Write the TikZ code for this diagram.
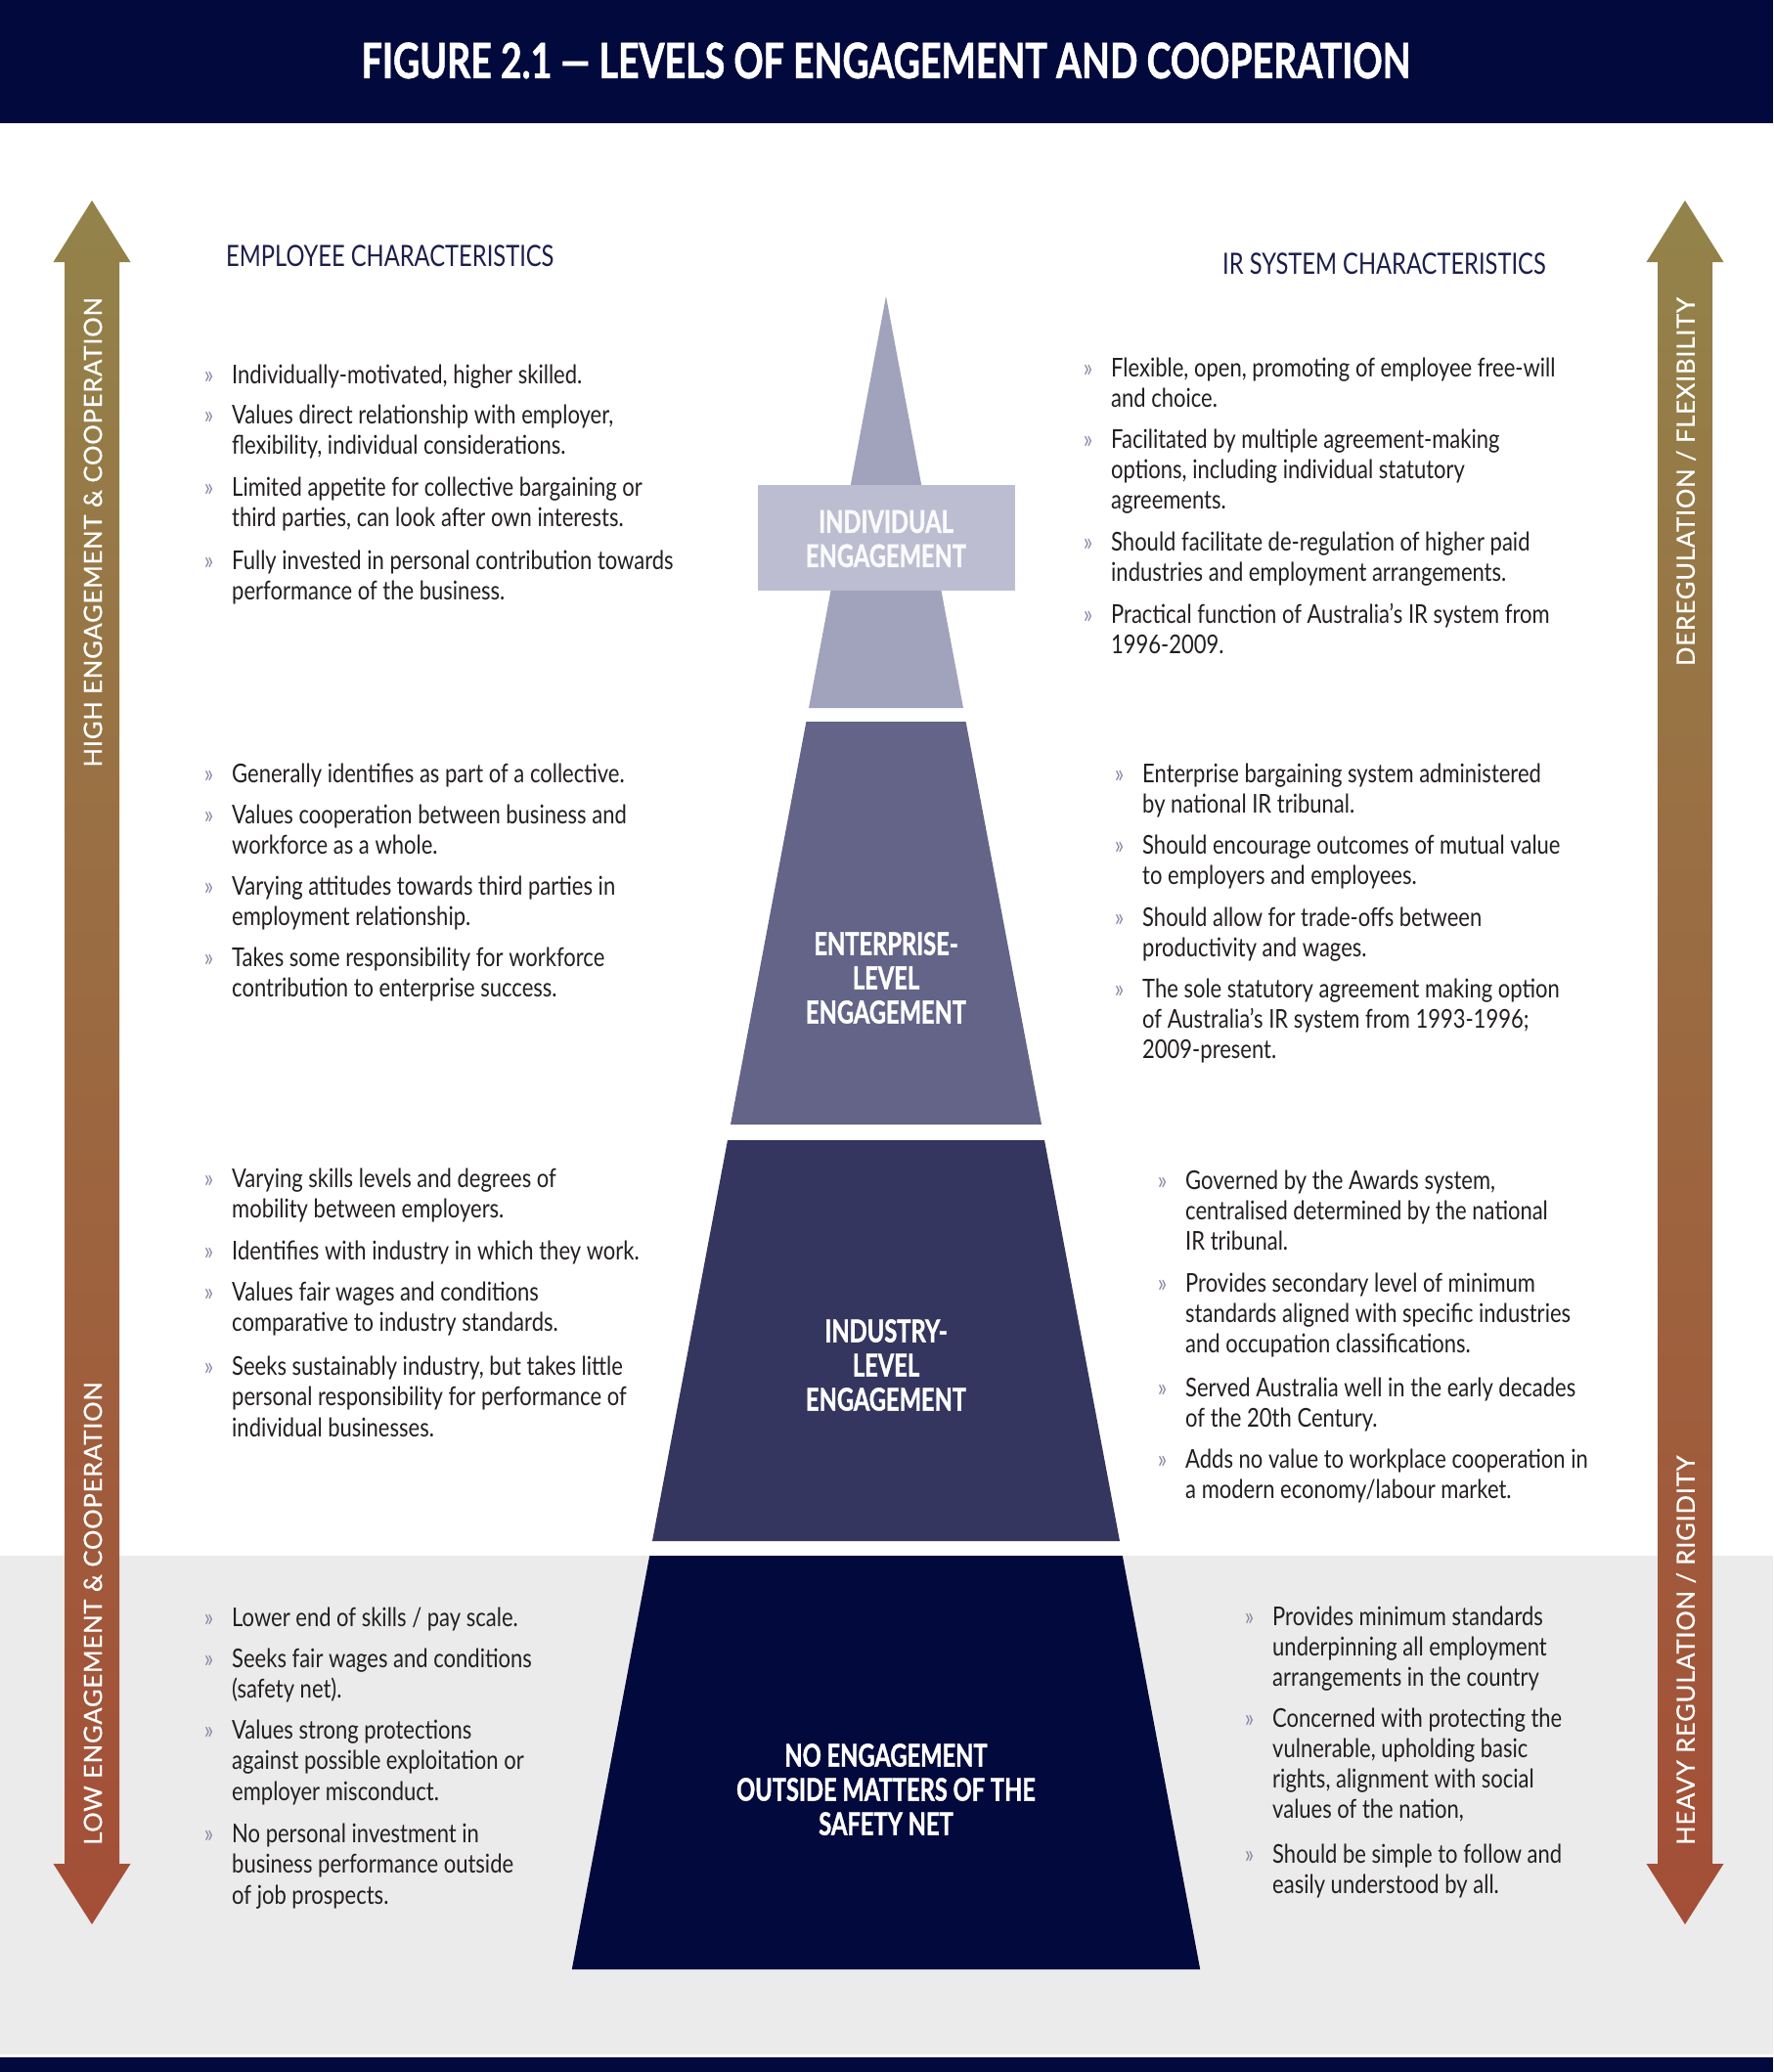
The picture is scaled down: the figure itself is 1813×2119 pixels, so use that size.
\documentclass[tikz,border=0pt]{standalone}
\usepackage{fontspec}
\setmainfont{Lato}[FakeStretch=0.83]
\newfontfamily\headfont{Lato}[FakeStretch=0.79]
\newfontfamily\titlefont{Lato}[FakeStretch=0.75, BoldFeatures={FakeBold=1}]
\newfontfamily\lvlfont{Lato}[FakeStretch=0.74, BoldFeatures={FakeBold=1.2}]
\newfontfamily\arrowfont{Lato}[LetterSpace=3, FakeBold=0.6]
\definecolor{navy}{HTML}{020A3D}
\definecolor{bgray}{HTML}{EBEBEB}
\definecolor{txt}{HTML}{231F20}
\definecolor{headc}{HTML}{1C1E4A}
\definecolor{bul}{HTML}{8A8AA8}
\definecolor{indc}{HTML}{A1A2BB}
\definecolor{boxc}{HTML}{BCBDD1}
\definecolor{entc}{HTML}{636488}
\definecolor{induc}{HTML}{34365F}
\definecolor{nonec}{HTML}{02093C}
\definecolor{gold}{HTML}{93834A}
\definecolor{brown}{HTML}{A67B5E}
\definecolor{rust}{HTML}{A44E37}
\newcommand\bul{\rule{0pt}{24pt}\llap{\textcolor{bul}{»}\hspace{19pt}}}

\begin{document}
\begin{tikzpicture}[x=1pt, y=-1pt,
  empitem/.style={anchor=north west, yshift=24pt, align=left, inner sep=0, text=txt, font=\fontsize{26.5}{31.5}\selectfont},
  sysitem/.style={empitem, font=\fontsize{26.5}{31}\selectfont},
  lvllabel/.style={align=center, inner sep=0, text=white, font=\lvlfont\bfseries\fontsize{32}{35}\selectfont},
  sidelabel/.style={rotate=90, inner sep=0, text=white, font=\arrowfont\fontsize{25.6}{25.6}\selectfont},
  colhead/.style={anchor=base west, inner sep=0, text=headc, font=\headfont\fontsize{30}{30}\selectfont}]
\useasboundingbox (0,0) rectangle (1813,2119);
\fill[white] (0,0) rectangle (1813,2119);
\fill[bgray] (0,1591) rectangle (1813,2101);
\fill[navy] (0,0) rectangle (1813,126);
\fill[navy] (0,2104) rectangle (1813,2119);
\node[anchor=base, inner sep=0, text=white, font=\titlefont\bfseries\fontsize{50}{50}\selectfont] (title) at (906,80) {FIGURE 2.1 — LEVELS OF ENGAGEMENT AND COOPERATION};

% side arrows
\shade[top color=gold, middle color=brown, bottom color=rust] (94,205) -- (133.5,268) -- (122,268) -- (122,1906) -- (133.5,1906) -- (94,1968) -- (54.5,1906) -- (66,1906) -- (66,268) -- (54.5,268) -- cycle;
\shade[top color=gold, middle color=brown, bottom color=rust] (1723,205) -- (1762.5,268) -- (1751,268) -- (1751,1906) -- (1762.5,1906) -- (1723,1968) -- (1683.5,1906) -- (1695,1906) -- (1695,268) -- (1683.5,268) -- cycle;
\node[sidelabel, anchor=east] (hi) at (95,304) {HIGH ENGAGEMENT \& COOPERATION};
\node[sidelabel, anchor=west] (lo) at (95,1887) {LOW ENGAGEMENT \& COOPERATION};
\node[sidelabel, anchor=east] (dereg) at (1724,304) {DEREGULATION / FLEXIBILITY};
\node[sidelabel, anchor=west] (reg) at (1724,1887) {HEAVY REGULATION / RIGIDITY};

% pyramid
\fill[indc] (906,303) -- (985,724) -- (827,724) -- cycle;
\fill[boxc] (775,496) rectangle (1038,604);
\fill[entc] (824.4,738) -- (987.6,738) -- (1065,1150) -- (747,1150) -- cycle;
\fill[induc] (744,1166) -- (1068,1166) -- (1145,1576) -- (667,1576) -- cycle;
\fill[nonec] (664.2,1591) -- (1147.8,1591) -- (1227.2,2014) -- (584.8,2014) -- cycle;
\node[lvllabel, text=white!92!boxc] (indl) at (906,551) {INDIVIDUAL\\ENGAGEMENT};
\node[lvllabel] (entl) at (906,1000) {ENTERPRISE-\\LEVEL\\ENGAGEMENT};
\node[lvllabel] (indul) at (906,1396) {INDUSTRY-\\LEVEL\\ENGAGEMENT};
\node[lvllabel] (nonel) at (906,1830) {NO ENGAGEMENT\\OUTSIDE MATTERS OF THE\\SAFETY NET};

% headings
\node[colhead] (emph) at (231,272) {EMPLOYEE CHARACTERISTICS};
\node[colhead] (sysh) at (1250,280) {IR SYSTEM CHARACTERISTICS};

% employee characteristics
\node[empitem] (e1) at (237,392) {\bul Individually-motivated, higher skilled.};
\node[empitem] (e2) at (237,433) {\bul Values direct relationship with employer,\\flexibility, individual considerations.};
\node[empitem] (e3) at (237,507) {\bul Limited appetite for collective bargaining or\\third parties, can look after own interests.};
\node[empitem] (e4) at (237,582) {\bul Fully invested in personal contribution towards\\performance of the business.};
\node[empitem] (e5) at (237,800) {\bul Generally identifies as part of a collective.};
\node[empitem] (e6) at (237,842) {\bul Values cooperation between business and\\workforce as a whole.};
\node[empitem] (e7) at (237,915) {\bul Varying attitudes towards third parties in\\employment relationship.};
\node[empitem] (e8) at (237,988) {\bul Takes some responsibility for workforce\\contribution to enterprise success.};
\node[empitem] (e9) at (237,1214) {\bul Varying skills levels and degrees of\\mobility between employers.};
\node[empitem] (e10) at (237,1288) {\bul Identifies with industry in which they work.};
\node[empitem] (e11) at (237,1330) {\bul Values fair wages and conditions\\comparative to industry standards.};
\node[empitem] (e12) at (237,1406) {\bul Seeks sustainably industry, but takes little\\personal responsibility for performance of\\individual businesses.};
\node[empitem] (e13) at (237,1663) {\bul Lower end of skills / pay scale.};
\node[empitem] (e14) at (237,1705) {\bul Seeks fair wages and conditions\\(safety net).};
\node[empitem] (e15) at (237,1778) {\bul Values strong protections\\against possible exploitation or\\employer misconduct.};
\node[empitem] (e16) at (237,1884) {\bul No personal investment in\\business performance outside\\of job prospects.};

% IR system characteristics
\node[sysitem] (s1) at (1136,385) {\bul Flexible, open, promoting of employee free-will\\and choice.};
\node[sysitem] (s2) at (1136,458) {\bul Facilitated by multiple agreement-making\\options, including individual statutory\\agreements.};
\node[sysitem] (s3) at (1136,563) {\bul Should facilitate de-regulation of higher paid\\industries and employment arrangements.};
\node[sysitem] (s4) at (1136,637) {\bul Practical function of Australia’s IR system from\\1996-2009.};
\node[sysitem] (s5) at (1168,800) {\bul Enterprise bargaining system administered\\by national IR tribunal.};
\node[sysitem] (s6) at (1168,873) {\bul Should encourage outcomes of mutual value\\to employers and employees.};
\node[sysitem] (s7) at (1168,947) {\bul Should allow for trade-offs between\\productivity and wages.};
\node[sysitem] (s8) at (1168,1020) {\bul The sole statutory agreement making option\\of Australia’s IR system from 1993-1996;\\2009-present.};
\node[sysitem] (s9) at (1212,1216) {\bul Governed by the Awards system,\\centralised determined by the national\\IR tribunal.};
\node[sysitem] (s10) at (1212,1321) {\bul Provides secondary level of minimum\\standards aligned with specific industries\\and occupation classifications.};
\node[sysitem] (s11) at (1212,1428) {\bul Served Australia well in the early decades\\of the 20th Century.};
\node[sysitem] (s12) at (1212,1501) {\bul Adds no value to workplace cooperation in\\a modern economy/labour market.};
\node[sysitem] (s13) at (1301,1662) {\bul Provides minimum standards\\underpinning all employment\\arrangements in the country};
\node[sysitem] (s14) at (1301,1766) {\bul Concerned with protecting the\\vulnerable, upholding basic\\rights, alignment with social\\values of the nation,};
\node[sysitem] (s15) at (1301,1905) {\bul Should be simple to follow and\\easily understood by all.};
\end{tikzpicture}
\end{document}
